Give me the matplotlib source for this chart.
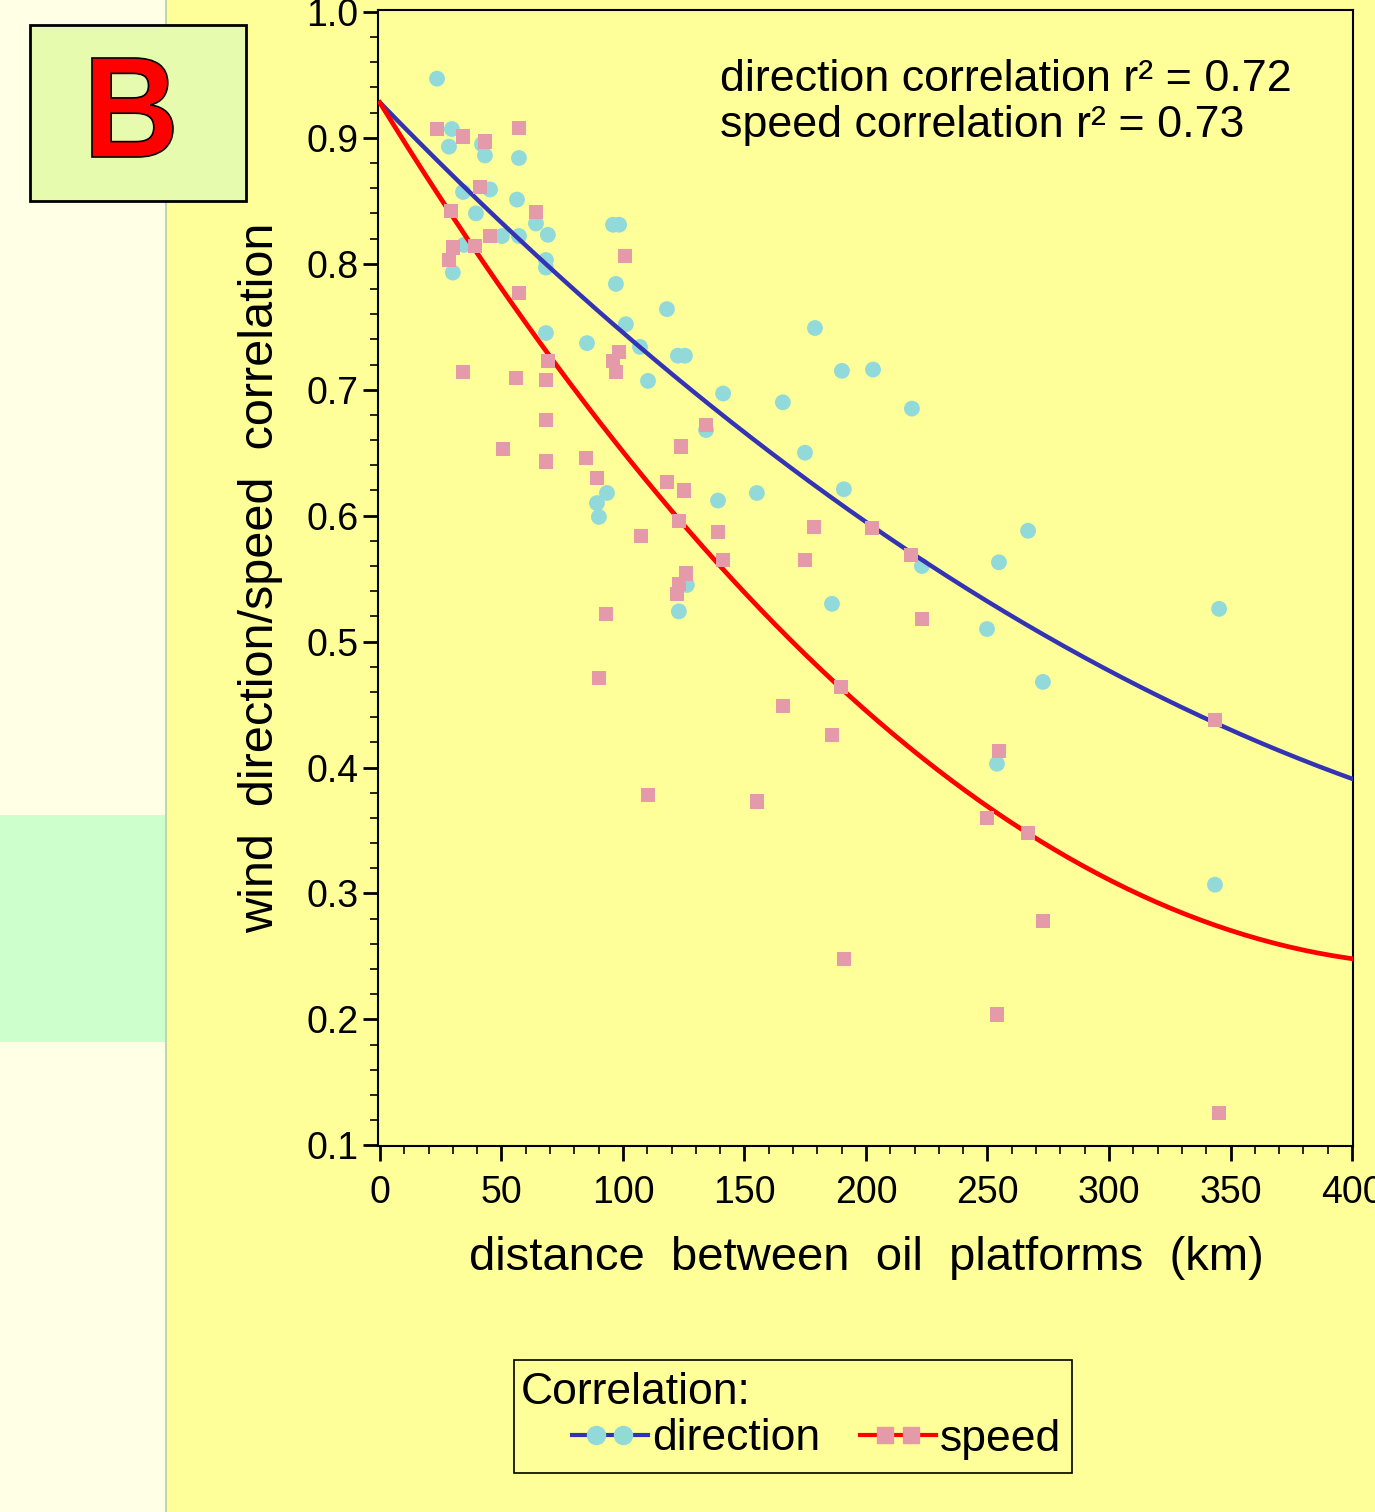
import matplotlib
matplotlib.use('Agg')
import matplotlib.pyplot as plt
from matplotlib.patches import Rectangle, PathPatch
from matplotlib.lines import Line2D
from matplotlib.legend_handler import HandlerLine2D, HandlerTuple
from matplotlib.textpath import TextPath
from matplotlib.font_manager import FontProperties
from matplotlib.transforms import Affine2D, IdentityTransform
import numpy as np

plt.rcParams['font.family'] = ['Liberation Sans', 'DejaVu Sans']

# direction correlation points (distance km, r)
dir_km = [23.5, 29.6, 28.4, 42.0, 43.2, 57.2, 34.2, 45.3, 56.4, 39.5,
          64.2, 69.1, 57.2, 50.2, 34.6, 30.0, 68.3, 68.3, 95.9, 98.4,
          97.1, 101.2, 118.1, 68.3, 85.2, 107.0, 122.6, 125.5, 110.3, 141.2,
          134.2, 165.8, 179.0, 190.1, 202.9, 218.9, 174.9, 190.9, 155.1, 139.1,
          93.4, 89.3, 90.1, 126.3, 123.0, 186.0, 223.0, 254.7, 266.7, 249.8,
          272.8, 253.9, 345.3, 343.6]
dir_r = [0.947, 0.907, 0.893, 0.895, 0.886, 0.884, 0.857, 0.859, 0.851, 0.840,
         0.832, 0.823, 0.822, 0.822, 0.815, 0.793, 0.803, 0.797, 0.831, 0.831,
         0.784, 0.752, 0.764, 0.745, 0.737, 0.734, 0.727, 0.727, 0.707, 0.697,
         0.668, 0.690, 0.749, 0.715, 0.716, 0.685, 0.650, 0.621, 0.618, 0.612,
         0.618, 0.610, 0.599, 0.545, 0.524, 0.530, 0.560, 0.563, 0.588, 0.510,
         0.468, 0.403, 0.526, 0.307]

# speed correlation points
spd_km = [23.5, 34.2, 43.2, 57.2, 41.2, 29.2, 64.2, 45.3, 30.0, 39.1,
          28.4, 100.8, 57.2, 98.4, 95.9, 97.1, 69.1, 34.2, 56.0, 68.3,
          68.3, 50.6, 68.3, 84.8, 89.3, 134.2, 123.9, 118.1, 125.1, 123.0,
          107.4, 139.1, 141.2, 125.9, 123.0, 122.2, 93.0, 90.1, 110.3, 155.1,
          165.8, 186.0, 189.7, 190.9, 178.6, 174.9, 202.5, 218.5, 223.0, 249.8,
          254.7, 253.9, 266.7, 272.8, 343.6, 345.3]
spd_r = [0.907, 0.901, 0.897, 0.908, 0.861, 0.842, 0.841, 0.822, 0.813, 0.814,
         0.803, 0.806, 0.777, 0.730, 0.723, 0.714, 0.723, 0.714, 0.709, 0.708,
         0.676, 0.653, 0.643, 0.646, 0.630, 0.672, 0.655, 0.627, 0.620, 0.596,
         0.584, 0.587, 0.565, 0.554, 0.546, 0.538, 0.522, 0.471, 0.378, 0.373,
         0.449, 0.426, 0.464, 0.248, 0.591, 0.565, 0.590, 0.569, 0.518, 0.360,
         0.413, 0.204, 0.348, 0.278, 0.438, 0.126]

# trend curves every 50 km
fit_km = [0, 50, 100, 150, 200, 250, 300, 350, 400]
dir_fit = [0.928, 0.833, 0.745, 0.666, 0.595, 0.532, 0.477, 0.430, 0.391]
spd_fit = [0.928, 0.780, 0.651, 0.539, 0.445, 0.369, 0.311, 0.271, 0.248]

W, H = 1375, 1512
fig = plt.figure(figsize=(W / 100, H / 100), dpi=100, facecolor='#FFFF99')

# left side panel
fig.patches.append(Rectangle((0, 0), 166 / W, 1, transform=fig.transFigure,
                             facecolor='#FFFFE6', edgecolor='none', zorder=0))
fig.patches.append(Rectangle((0, 1 - 1042 / H), 166 / W, 227 / H, transform=fig.transFigure,
                             facecolor='#CCFFCC', edgecolor='none', zorder=0))
fig.lines.append(Line2D([166 / W, 166 / W], [0, 1], transform=fig.transFigure,
                        color='#C0D8A8', lw=1.5, zorder=0.5))

# "B" panel label, glyph squeezed into its box (pixel coords)
fig.patches.append(Rectangle((30 / W, 1 - 201 / H), 216 / W, 176 / H, transform=fig.transFigure,
                             facecolor='#E6FBAE', edgecolor='black', lw=2, zorder=1))
tp = TextPath((0, 0), 'B', size=100, prop=FontProperties(family='Liberation Sans', weight='bold'))
ext = tp.get_extents()
bx0, bx1, by0, by1 = 92, 173, H - 157, H - 58
tr = (Affine2D().translate(-ext.x0, -ext.y0)
      .scale((bx1 - bx0) / ext.width, (by1 - by0) / ext.height)
      .translate(bx0, by0))
fig.patches.append(PathPatch(tp, transform=tr + IdentityTransform(), facecolor='#FF0000',
                             edgecolor='black', lw=1.2, zorder=2))

ax = fig.add_axes([378 / W, 1 - 1146 / H, 975 / W, 1136 / H])
ax.set_facecolor('#FFFF99')

ax.scatter(dir_km, dir_r, s=130, marker='o', color='#92DADA', edgecolors='none', zorder=2)
xs = np.linspace(0, 400, 200)
ax.plot(xs, np.polyval(np.polyfit(fit_km, dir_fit, 2), xs), color='#3333B3', lw=3.2, zorder=3)
ax.plot(xs, np.polyval(np.polyfit(fit_km, spd_fit, 2), xs), color='#FF0000', lw=3.4, zorder=3)
ax.scatter(spd_km, spd_r, s=105, marker='s', color='#E49AA8', edgecolors='none', zorder=4)

ax.set_xlim(-0.8, 400.4)
ax.set_ylim(0.0995, 1.0015)
ax.set_xticks(np.arange(0, 401, 50))
ax.set_xticks(np.arange(0, 401, 10), minor=True)
ax.set_yticks(np.arange(0.1, 1.01, 0.1))
ax.set_yticks(np.arange(0.1, 1.0, 0.02), minor=True)
ax.set_yticklabels([f'{v:.1f}' for v in np.arange(0.1, 1.01, 0.1)])
ax.tick_params(which='major', length=11, width=2, labelsize=27, direction='out')
ax.tick_params(which='minor', length=6, width=1.2, direction='out')
ax.tick_params(axis='x', pad=10)
ax.tick_params(axis='y', pad=3)
for sp in ax.spines.values():
    sp.set_linewidth(1.5)

fig.text(866 / W, 1 - 1258 / H, 'distance  between  oil  platforms  (km)',
         fontsize=34, ha='center', va='center')
fig.text(261 / W, 1 - 578 / H, 'wind  direction/speed  correlation',
         fontsize=35, ha='center', va='center', rotation=90)

fig.text(720 / W, 1 - 91 / H, 'direction correlation r\u00b2 = 0.72', fontsize=32.3, va='baseline')
fig.text(720 / W, 1 - 137 / H, 'speed correlation r\u00b2 = 0.73', fontsize=32.3, va='baseline')

# legend box
fig.patches.append(Rectangle((514 / W, 1 - 1473 / H), 558 / W, 113 / H, transform=fig.transFigure,
                             facecolor='#FFFF99', edgecolor='black', lw=1.2, zorder=1))
fig.text(521 / W, 1 - 1392 / H, 'Correlation:', fontsize=32, va='center', zorder=2)
dir_line = Line2D([], [], color='#3333B3', lw=3)
dir_mark = Line2D([], [], ls='none', marker='o', markersize=13,
                  markerfacecolor='#92DADA', markeredgecolor='#92DADA')
spd_line = Line2D([], [], color='#FF0000', lw=3)
spd_mark = Line2D([], [], ls='none', marker='s', markersize=11,
                  markerfacecolor='#E49AA8', markeredgecolor='#E49AA8')
hmap = {dir_line: HandlerLine2D(numpoints=1), spd_line: HandlerLine2D(numpoints=1),
        dir_mark: HandlerLine2D(numpoints=2, marker_pad=0.55),
        spd_mark: HandlerLine2D(numpoints=2, marker_pad=0.55),
        tuple: HandlerTuple(ndivide=1, pad=0)}
fig.legend([(dir_line, dir_mark), (spd_line, spd_mark)], ['direction', 'speed'],
           loc='center left', bbox_to_anchor=(572 / W, 1 - 1439 / H), ncol=2,
           frameon=False, fontsize=32, handlelength=1.7, handletextpad=0.1,
           columnspacing=0.9, borderpad=0, borderaxespad=0, handler_map=hmap)

fig.savefig('out.png', dpi=100, facecolor=fig.get_facecolor())
